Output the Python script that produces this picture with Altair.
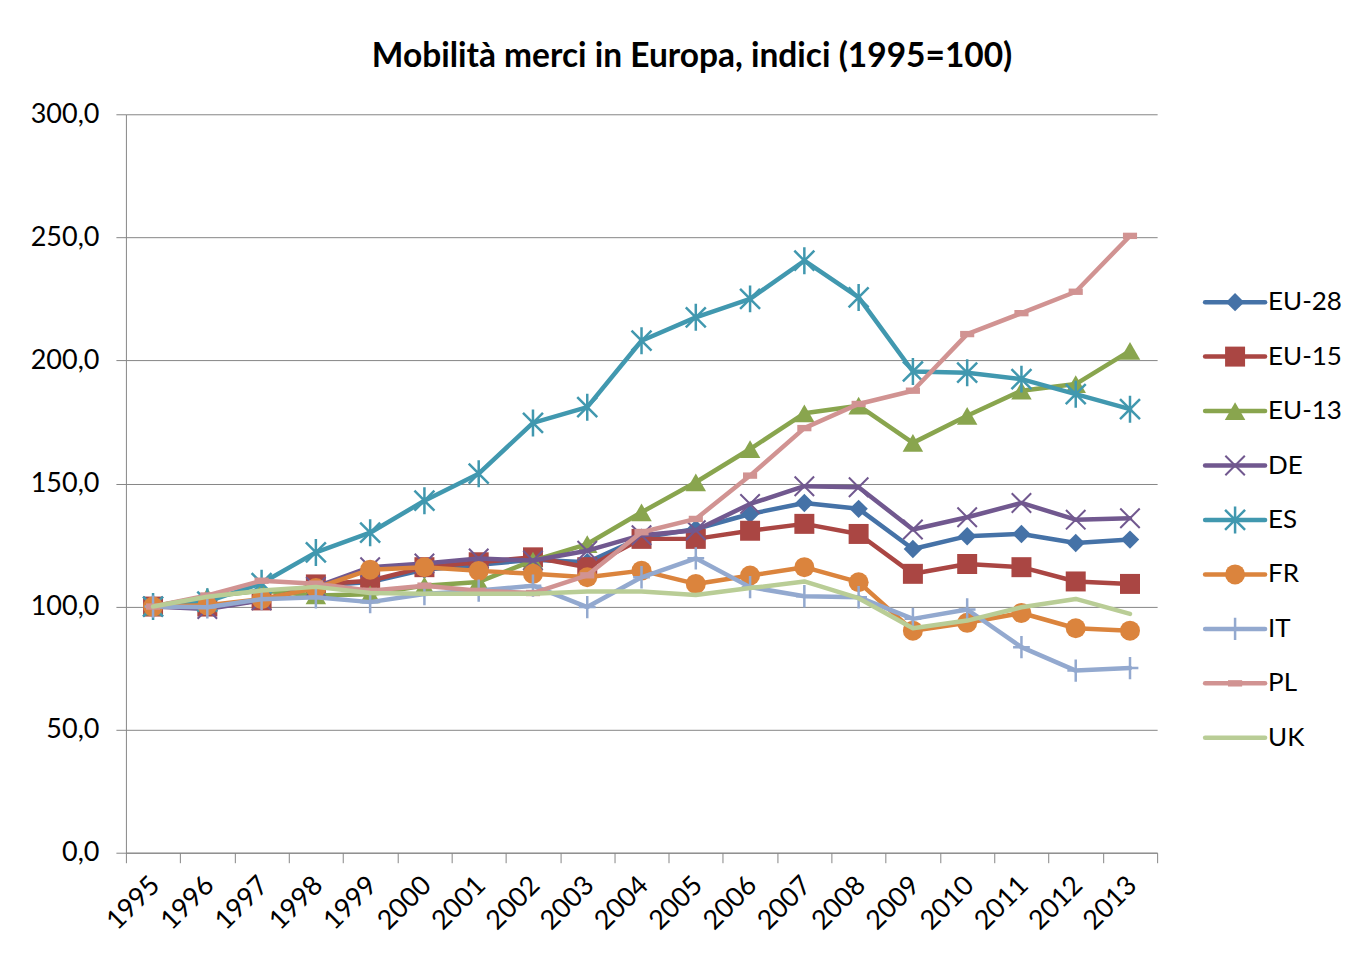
import altair as alt
import pandas as pd

years = ["1995", "1996", "1997", "1998", "1999", "2000", "2001", "2002", "2003", "2004",
         "2005", "2006", "2007", "2008", "2009", "2010", "2011", "2012", "2013"]

eu28 = [100, 100, 102.5, 108.5, 110, 115, 117, 119, 118, 128, 131.5, 137.6, 142.1, 139.7, 123.4, 128.6, 129.5, 125.8, 127.2]
eu15 = [100, 100, 102.5, 109, 110.5, 116, 118, 120, 116, 127.5, 127.5, 130.8, 133.6, 129.5, 113.3, 117.3, 116, 110.2, 109.2]
eu13 = [100, 104, 106.5, 104.5, 105, 108.5, 110, 118.7, 125.4, 138.3, 150.5, 164, 178.5, 181.6, 166.5, 177.5, 187.7, 190.4, 203.9]
de = [100, 99, 102.5, 108, 116, 117.5, 119.5, 118.7, 122.7, 129, 131, 141.7, 148.9, 148.5, 131.3, 136.3, 142.1, 135.3, 135.9]
es = [100, 102, 109.5, 122, 130, 143, 154, 174.6, 181, 208, 217.5, 225, 240.5, 225.6, 195.5, 195, 192.4, 186.3, 180.2]
fr = [100, 100.5, 103, 107.5, 115, 116, 114.5, 113.3, 111.9, 114.6, 109.2, 112.6, 116, 109.9, 90.2, 93.4, 97.4, 91.2, 90.2]
it = [100, 99.7, 103, 103.8, 101.8, 105.1, 106.5, 108.5, 99.8, 111.9, 119.6, 107.9, 104.2, 103.8, 95, 98.8, 83.5, 74, 75]
pl = [100, 104.5, 110.5, 109.3, 106.4, 108.5, 106.4, 105.5, 112.7, 130.2, 135.6, 153.2, 172.5, 182.3, 187.7, 210.7, 219.2, 227.9, 250.6]
uk = [100, 104, 106.5, 108, 105.5, 105.2, 105.2, 105.2, 106.1, 106.1, 104.7, 107.5, 110.2, 103.4, 91.2, 94.3, 99.7, 103.1, 97]

names = ["EU-28", "EU-15", "EU-13", "DE", "ES", "FR", "IT", "PL", "UK"]
series_values = [eu28, eu15, eu13, de, es, fr, it, pl, uk]
colors = ["#4572A7", "#AA4643", "#89A54E", "#71588F", "#4198AF", "#DB843D", "#93A9CF", "#D19392", "#B9CD96"]

y_ticks = [0, 50, 100, 150, 200, 250, 300]
title_text = "Mobilità merci in Europa, indici (1995=100)"

FONT = "Lato"

markers = {
    "EU-28": dict(shape="diamond", filled=True, size=340, strokeWidth=1),
    "EU-15": dict(shape="square", filled=True, size=400, strokeWidth=1),
    "EU-13": dict(shape="triangle-up", filled=True, size=420, strokeWidth=1),
    "DE": dict(shape="M-1,-1L1,1M-1,1L1,-1", filled=False, size=380, strokeWidth=2),
    "ES": dict(shape="M-1,-1L1,1M-1,1L1,-1M0,-1.35L0,1.35", filled=False, size=400, strokeWidth=2.5),
    "FR": dict(shape="circle", filled=True, size=400, strokeWidth=1),
    "IT": dict(shape="M0,-1L0,1M-0.75,0L0.75,0", filled=False, size=500, strokeWidth=2.5),
    "PL": dict(shape="M-1,-0.45L1,-0.45L1,0.45L-1,0.45Z", filled=True, size=200, strokeWidth=0.5),
}

rows = []
for n, vals in zip(names, series_values):
    for yr, v in zip(years, vals):
        rows.append({"series": n, "year": yr, "value": v})
df = pd.DataFrame(rows)

color = alt.Color("series:N", scale=alt.Scale(domain=names, range=colors), legend=None)

xenc = alt.X(
    "year:O",
    bandPosition=0.5,
    sort=years,
    scale=alt.Scale(type="band", paddingInner=0, paddingOuter=0),
    axis=alt.Axis(
        title=None, labelAngle=-45, tickBand="extent", tickSize=10, tickColor="#868686",
        domainColor="#868686", labelFont=FONT, labelFontSize=27, labelColor="#000000",
        labelPadding=9, labelOffset=-7, grid=False, labelOverlap=False,
    ),
)
yenc = alt.Y(
    "value:Q",
    scale=alt.Scale(domain=[0, 300], nice=False),
    axis=alt.Axis(
        title=None, values=y_ticks, tickSize=10, tickColor="#868686", domainColor="#868686",
        gridColor="#868686", gridWidth=1, labelFont=FONT, labelFontSize=27, labelColor="#000000",
        labelPadding=17, labelExpr="replace(format(datum.value, '.1f'), '.', ',')",
    ),
)

base = alt.Chart(df)
layers = []
for i, n in enumerate(names):
    sub = base.transform_filter(alt.datum.series == n)
    layers.append(sub.mark_line(strokeWidth=4.5, strokeJoin="round", strokeCap="round").encode(x=xenc, y=yenc, color=color))
    if n in markers:
        m = markers[n]
        layers.append(
            sub.mark_point(shape=m["shape"], filled=m["filled"], size=m["size"],
                           strokeWidth=m["strokeWidth"], opacity=1).encode(x=xenc, y=yenc, color=color)
        )

main = alt.layer(*layers).properties(width=1032, height=739)

# legend: one row per series, ordered as in the list
leg_df = pd.DataFrame({"series": names, "rank": list(range(len(names)))})
ly = alt.Y("rank:Q", axis=None, scale=alt.Scale(domain=[-3.45, 10.11], reverse=True, nice=False, zero=False))
leg_base = alt.Chart(leg_df)
leg_layers = [
    leg_base.mark_rule(strokeWidth=4.5, strokeCap="round").encode(
        x=alt.value(0), x2=alt.value(60), y=ly, color=color),
]
for n, m in markers.items():
    leg_layers.append(
        leg_base.transform_filter(alt.datum.series == n).mark_point(
            shape=m["shape"], filled=m["filled"], size=m["size"], strokeWidth=m["strokeWidth"], opacity=1
        ).encode(x=alt.value(30), y=ly, color=color)
    )
leg_layers.append(
    leg_base.mark_text(align="left", baseline="middle", font=FONT, fontSize=26, color="#000000").encode(
        x=alt.value(63), y=ly, text="series:N")
)
legend = alt.layer(*leg_layers).properties(width=70, height=739)

chart = alt.hconcat(main, legend, spacing=44).properties(
    title=alt.TitleParams(title_text, font=FONT, fontSize=33.5, fontWeight="bold", color="#000000",
                          anchor="middle", offset=26, dx=6),
    padding={"left": 22, "top": 31, "right": 0, "bottom": 0},
).configure_view(stroke=None).configure_axis(domainWidth=1, tickWidth=1)

chart.save("out.html", embed_options={"renderer": "svg", "actions": False})
